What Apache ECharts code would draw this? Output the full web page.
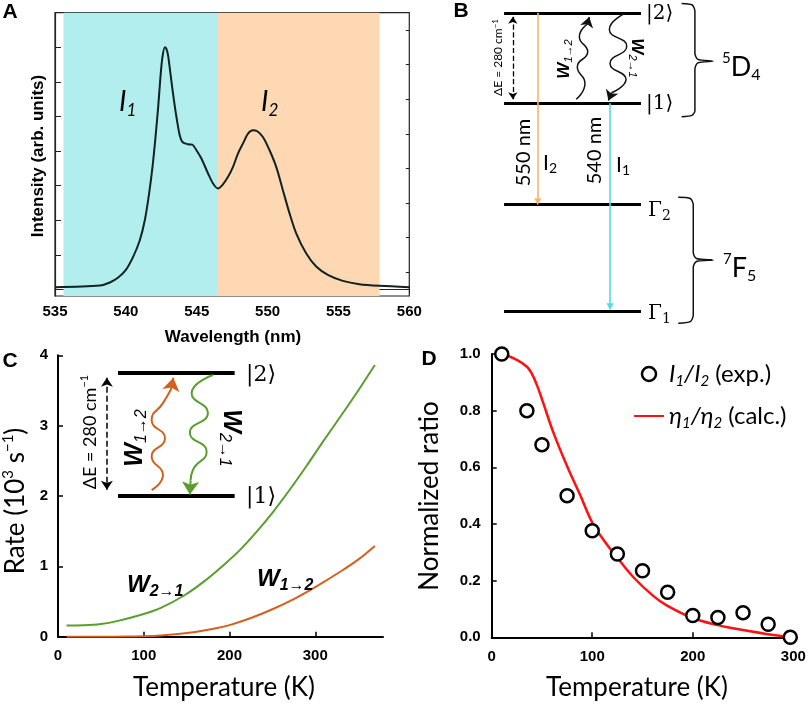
<!DOCTYPE html>
<html><head><meta charset="utf-8">
<script src="https://cdn.jsdelivr.net/npm/echarts@6/dist/echarts.min.js"></script>
<style>html,body{margin:0;padding:0;background:#fff}#c{width:809px;height:704px}</style>
</head><body><div id="c"></div><script>
// ---------- Panel A : emission spectrum ----------
const wavelengthA = [535.0,538.17,538.87,539.46,540.0,540.52,540.99,541.34,541.64,541.88,542.07,542.28,542.44,542.58,542.75,542.86,542.98,543.15,543.33,543.57,543.8,543.99,544.39,544.69,544.98,545.33,545.8,546.15,546.5,546.81,547.21,547.56,547.91,548.26,548.62,548.97,549.25,549.67,550.14,550.61,551.08,551.55,552.02,552.72,553.43,554.25,555.31,556.48,557.89,560.0];
const intensityA = [0.065,0.113,0.20,0.344,0.565,0.949,1.43,2.006,2.774,3.543,4.311,5.272,6.136,6.713,7.0,6.953,6.761,6.233,5.656,4.984,4.455,4.263,4.196,4.186,4.023,3.783,3.351,3.062,2.918,3.014,3.254,3.543,3.927,4.215,4.503,4.599,4.58,4.407,4.023,3.543,2.87,2.198,1.622,1.045,0.661,0.421,0.248,0.152,0.104,0.065];
const bandI1 = [535.6, 546.5];
const bandI2 = [546.5, 557.9];
const ticksAyMajor = [0,1,2,3,4,5,6,7];
const ticksAyMinor = [0.5,1.5,2.5,3.5,4.5,5.5,6.5,7.5];

// ---------- Panel B : energy level scheme (schematic units) ----------
const levelsB = [10.0, 6.97, 3.59, 0.0];          // |2>, |1>, Γ2, Γ1
const arrowI2B = [[0.246,10.0],[0.246,3.66]];
const arrowI1B = [[0.774,6.97],[0.774,0.14]];
const dashB = [[0.064,9.87],[0.064,7.1]];
const waveUpB = [[0.526,7.10],[0.591,7.63],[0.535,8.19],[0.611,8.69],[0.550,9.20],[0.608,9.62]];
const waveUpTipB = [[0.608,9.62],[0.622,9.86]];
const waveDownB = [[0.883,9.98],[0.769,9.44],[0.896,8.88],[0.774,8.30],[0.891,7.77],[0.785,7.32]];
const waveDownTipB = [[0.785,7.32],[0.762,7.06]];
const brace1B = [[1.297,10.315],[1.372,10.27],[1.394,10.06],[1.394,8.64],[1.415,8.44],[1.526,8.381],[1.415,8.32],[1.394,8.12],[1.394,6.71],[1.372,6.56],[1.297,6.514]];
const brace2B = [[1.272,3.812],[1.360,3.77],[1.382,3.56],[1.382,1.95],[1.405,1.76],[1.526,1.71],[1.405,1.66],[1.382,1.47],[1.382,-0.14],[1.360,-0.36],[1.272,-0.412]];

// ---------- Panel C : rates ----------
const tempW21 = [10,30,50,70,96,120,148,170,193,212,231.5,250,270,290,309,330,348,369.5];
const rateW21 = [0.16,0.163,0.18,0.225,0.308,0.41,0.593,0.783,1.017,1.23,1.49,1.761,2.085,2.43,2.772,3.14,3.46,3.862];
const tempW12 = [10,50,80,100,120,140,160,180,200,225,250,275,300,330,350,369.5];
const rateW12 = [0,0,0.002,0.007,0.018,0.038,0.068,0.11,0.165,0.265,0.39,0.535,0.705,0.93,1.095,1.29];
const insetLevelsC = [3.745, 2.0];
const insetSpanC = [70, 206];
const insetDashC = [[57,3.68],[57,2.09]];
const insetWaveUpC = [[109.2,2.085],[122.4,2.30],[109.2,2.56],[124.7,2.82],[109.2,3.08],[122.4,3.32],[132.0,3.52]];
const insetWaveUpTipC = [[132.0,3.52],[134.5,3.68]];
const insetWaveDownC = [[180.7,3.72],[155.8,3.46],[174.8,3.18],[153.8,2.90],[173.3,2.63],[157.3,2.37],[154.6,2.22]];
const insetWaveDownTipC = [[154.6,2.22],[153.8,2.02]];
const ticksCx = [0,100,200,300];

// ---------- Panel D : ratio ----------
const tempExp = [10,35,50,75,100,125,150,175,200,225,250,275,297];
const ratioExp = [1.0,0.80,0.68,0.50,0.376,0.294,0.235,0.159,0.077,0.07,0.087,0.046,0.0];
const tempCalc = [11.6,25,35,40,45,51,61,74.5,88,100,112,124,141,160,174,200,225,240,257,273,298];
const ratioCalc = [1.0,0.979,0.955,0.93,0.89,0.83,0.726,0.608,0.502,0.405,0.34,0.285,0.212,0.148,0.113,0.068,0.043,0.032,0.021,0.012,0.0];

function zip(a,b){return a.map((v,i)=>[v,b[i]]);}

const SANS = 'Liberation Sans';
const CAL = 'Lato';
const SERIF = 'DejaVu Serif';
const tickLabel = {color:'#000', fontFamily:SANS, fontWeight:'bold', fontSize:15};

function T(x,y,text,style,rot){
  return {type:'text', x:x, y:y, z:100, silent:true, rotation:rot||0,
    style:Object.assign({text:text, fill:'#000', align:'center', verticalAlign:'middle'}, style)};
}
const R = {
  sup: (fs)=>({fontFamily:CAL, fontSize:fs, verticalAlign:'top', lineHeight:fs}),
  sub: (fs,fam,it,bold)=>({fontFamily:fam||CAL, fontSize:fs, fontStyle:it?'italic':'normal', fontWeight:bold?'bold':'normal', verticalAlign:'bottom', lineHeight:fs}),
  main: (fs,fam,it,bold)=>({fontFamily:fam||CAL, fontSize:fs, fontStyle:it?'italic':'normal', fontWeight:bold?'bold':'normal', lineHeight:Math.round(fs*1.2)})
};

const graphics = [
  T(10,12,'A',{fontFamily:SANS,fontWeight:'bold',fontSize:21}),
  T(461,11,'B',{fontFamily:SANS,fontWeight:'bold',fontSize:21}),
  T(10,361,'C',{fontFamily:SANS,fontWeight:'bold',fontSize:21}),
  T(429,359,'D',{fontFamily:SANS,fontWeight:'bold',fontSize:21}),
  // A
  T(233,337,'Wavelength (nm)',{fontFamily:SANS,fontWeight:'bold',fontSize:17}),
  T(38,156,'Intensity (arb. units)',{fontFamily:SANS,fontWeight:'bold',fontSize:17},Math.PI/2),
  T(119,102,'{m|I}{s|1}',{align:'left',rich:{m:R.main(28,CAL,true),s:R.sub(17,CAL,true)}}),
  T(261,102,'{m|I}{s|2}',{align:'left',rich:{m:R.main(28,CAL,true),s:R.sub(17,CAL,true)}}),
  // B
  T(646,14,'|2⟩',{align:'left',fontFamily:SERIF,fontSize:20}),
  T(646,104,'|1⟩',{align:'left',fontFamily:SERIF,fontSize:20}),
  T(648,211,'{m|Γ}{s|2}',{align:'left',rich:{m:R.main(20,SERIF),s:R.sub(14,SERIF)}}),
  T(648,314,'{m|Γ}{s|1}',{align:'left',rich:{m:R.main(20,SERIF),s:R.sub(14,SERIF)}}),
  T(722,67,'{p|5}{m|D}{s|4}',{align:'left',rich:{p:R.sup(15),m:R.main(27),s:R.sub(16)}}),
  T(723,268,'{p|7}{m|F}{s|5}',{align:'left',rich:{p:R.sup(15),m:R.main(27),s:R.sub(16)}}),
  T(523.5,152.5,'550 nm',{fontFamily:CAL,fontSize:20},Math.PI/2),
  T(595,150.5,'540 nm',{fontFamily:CAL,fontSize:20},Math.PI/2),
  T(543,163,'{m|I}{s|2}',{align:'left',rich:{m:R.main(21),s:R.sub(14)}}),
  T(616,165,'{m|I}{s|1}',{align:'left',rich:{m:R.main(21),s:R.sub(14)}}),
  T(498,57.5,'{m|ΔE = 280 cm}{p|−1}',{rich:{m:R.main(12),p:R.sup(8)}},Math.PI/2),
  T(564,59,'{m|W}{s|1→2}',{rich:{m:R.main(17,SANS,true,true),s:R.sub(11,SANS,true)}},Math.PI/2),
  T(637,58,'{m|W}{s|2→1}',{rich:{m:R.main(17,SANS,true,true),s:R.sub(11,SANS,true)}},-Math.PI/2),
  // C
  T(16,501,'{m|Rate (10}{p|3}{m| s}{p|−1}{m|)}',{rich:{m:R.main(26),p:R.sup(15)}},Math.PI/2),
  T(224,688,'Temperature (K)',{fontFamily:CAL,fontSize:26}),
  T(90,432,'{m|ΔE = 280 cm}{p|−1}',{rich:{m:R.main(18),p:R.sup(11)}},Math.PI/2),
  T(246,375,'|2⟩',{align:'left',fontFamily:SERIF,fontSize:22}),
  T(246,497,'|1⟩',{align:'left',fontFamily:SERIF,fontSize:22}),
  T(135,438,'{m|W}{s|1→2}',{rich:{m:R.main(25,SANS,true,true),s:R.sub(16,SANS,true)}},Math.PI/2),
  T(231,438,'{m|W}{s|2→1}',{rich:{m:R.main(25,SANS,true,true),s:R.sub(16,SANS,true)}},-Math.PI/2),
  T(127,585,'{m|W}{s|2→1}',{align:'left',rich:{m:R.main(24,SANS,true,true),s:R.sub(16,SANS,true,true)}}),
  T(257,579,'{m|W}{s|1→2}',{align:'left',rich:{m:R.main(24,SANS,true,true),s:R.sub(16,SANS,true,true)}}),
  // D
  T(430,496,'Normalized ratio',{fontFamily:CAL,fontSize:26},Math.PI/2),
  T(637,688,'Temperature (K)',{fontFamily:CAL,fontSize:26})
];

const blackLine = {show:true, lineStyle:{color:'#000', width:2}};

function linesSeries(gi, data, style, symbol, symbolSize){
  return {type:'lines', coordinateSystem:'cartesian2d', xAxisIndex:gi, yAxisIndex:gi, silent:true, z:5,
    polyline:false, symbol:symbol||['none','none'], symbolSize:symbolSize||8,
    lineStyle:Object.assign({opacity:1, curveness:0}, style),
    data:data.map(c=>({coords:c}))};
}
function waveSeries(gi, data, color, width, smooth){
  return {type:'line', xAxisIndex:gi, yAxisIndex:gi, data:data, smooth:smooth===undefined?0.55:smooth, showSymbol:false, silent:true, z:5,
    lineStyle:{color:color, width:width}, animation:false};
}

const option = {
  animation:false,
  backgroundColor:'#fff',
  graphic:graphics,
  grid:[
    {left:55, top:12.7, width:354.3, height:283.3, show:true, borderColor:'#222', borderWidth:1.2, outerBoundsMode:'none'},
    {left:463, top:0, width:345, height:330, outerBoundsMode:'none'},
    {left:58, top:355.3, width:325, height:281.4, outerBoundsMode:'none'},
    {left:491.7, top:354, width:301.6, height:283.3, outerBoundsMode:'none'}
  ],
  xAxis:[
    {gridIndex:0, type:'value', min:535, max:560, interval:2.5, position:'bottom',
      axisLine:{show:true, lineStyle:{color:'#222', width:1.2}}, axisTick:{inside:true, length:4, lineStyle:{color:'#222'}},
      axisLabel:Object.assign({margin:8, formatter:v=>(v%5===0?String(v):'')}, tickLabel), splitLine:{show:false}},
    {gridIndex:1, type:'value', min:-0.3, max:2.22, show:false},
    {gridIndex:2, type:'value', min:0, max:379, axisLine:blackLine,
      axisTick:{inside:true, length:5, lineStyle:{color:'#000', width:1.5}, customValues:ticksCx},
      axisLabel:Object.assign({margin:12, customValues:ticksCx}, tickLabel), splitLine:{show:false}},
    {gridIndex:3, type:'value', min:0, max:300, interval:100, axisLine:blackLine,
      axisTick:{inside:true, length:5, lineStyle:{color:'#000', width:1.5}},
      axisLabel:Object.assign({margin:12}, tickLabel), splitLine:{show:false}},
    {gridIndex:0, type:'value', min:535, max:560, interval:2.5, position:'top',
      axisLine:{show:false}, axisTick:{inside:true, length:4, lineStyle:{color:'#222'}},
      axisLabel:{show:false}, splitLine:{show:false}}
  ],
  yAxis:[
    {gridIndex:0, type:'value', min:-0.19, max:8, axisLine:{show:true, lineStyle:{color:'#222', width:1.2}},
      axisTick:{inside:true, length:6, lineStyle:{color:'#222'}, customValues:ticksAyMajor},
      axisLabel:{show:false}, splitLine:{show:false}},
    {gridIndex:1, type:'value', min:-0.64, max:10.43, show:false},
    {gridIndex:2, type:'value', min:0, max:4, interval:1, axisLine:blackLine,
      axisTick:{show:true, inside:true, length:5, lineStyle:{color:'#000', width:1.5}},
      axisLabel:Object.assign({margin:10}, tickLabel), splitLine:{show:false}},
    {gridIndex:3, type:'value', min:0, max:1, interval:0.2, axisLine:blackLine,
      axisTick:{show:true, inside:true, length:5, lineStyle:{color:'#000', width:1.5}},
      axisLabel:Object.assign({margin:11, formatter:v=>v.toFixed(1)}, tickLabel), splitLine:{show:false}},
    {gridIndex:0, type:'value', min:-0.19, max:8, axisLine:{show:false},
      axisTick:{inside:true, length:3.5, lineStyle:{color:'#222'}, customValues:ticksAyMinor},
      axisLabel:{show:false}, splitLine:{show:false}}
  ],
  legend:{
    orient:'vertical', left:628, top:357, itemWidth:30, itemHeight:14, itemGap:15,
    data:[
      {name:'I1/I2 (exp.)', icon:'circle', itemStyle:{color:'#fff', borderColor:'#000', borderWidth:2.5}},
      {name:'η1/η2 (calc.)', itemStyle:{opacity:0}}
    ],
    formatter:function(n){
      return n.indexOf('exp')>=0 ? '{i|I}{s|1}{i|/I}{s|2}{n| (exp.)}' : '{i|η}{s|1}{i|/η}{s|2}{n| (calc.)}';
    },
    textStyle:{fontFamily:CAL, fontSize:24, color:'#000', rich:{
      i:{fontFamily:CAL, fontSize:24, fontStyle:'italic', lineHeight:30},
      s:{fontFamily:CAL, fontSize:15, fontStyle:'italic', verticalAlign:'bottom', lineHeight:15},
      n:{fontFamily:CAL, fontSize:24, lineHeight:30}
    }}
  },
  series:[
    // A
    {type:'line', name:'spectrum', xAxisIndex:0, yAxisIndex:0, data:zip(wavelengthA,intensityA), smooth:0.3,
      showSymbol:false, lineStyle:{color:'#102222', width:2}, z:3,
      markArea:{silent:true, label:{show:false}, data:[
        [{xAxis:bandI1[0], itemStyle:{color:'#b2eeee', opacity:1}},{xAxis:bandI1[1]}],
        [{xAxis:bandI2[0], itemStyle:{color:'#fdd8b3', opacity:1}},{xAxis:bandI2[1]}]
      ]}},
    // B
    linesSeries(1, levelsB.map(e=>[[0,e],[1,e]]), {color:'#000', width:3}),
    linesSeries(1, [arrowI2B], {color:'#f7b566', width:1.6}, ['none','triangle'], 7),
    linesSeries(1, [arrowI1B], {color:'#55dde3', width:1.6}, ['none','triangle'], 7),
    linesSeries(1, [dashB], {color:'#000', width:1.3, type:'dashed'}, ['arrow','arrow'], 7),
    waveSeries(1, waveUpB, '#111', 1.5),
    linesSeries(1, [waveUpTipB], {color:'#111', width:1.5}, ['none','arrow'], 10),
    waveSeries(1, waveDownB, '#111', 1.5),
    linesSeries(1, [waveDownTipB], {color:'#111', width:1.5}, ['none','arrow'], 10),
    waveSeries(1, brace1B, '#111', 1.5, 0.25),
    waveSeries(1, brace2B, '#111', 1.5, 0.25),
    // C
    {type:'line', name:'W21', xAxisIndex:2, yAxisIndex:2, data:zip(tempW21,rateW21), smooth:0.35, showSymbol:false,
      lineStyle:{color:'#5a9e2f', width:2}, z:3},
    {type:'line', name:'W12', xAxisIndex:2, yAxisIndex:2, data:zip(tempW12,rateW12), smooth:0.35, showSymbol:false,
      lineStyle:{color:'#d4601f', width:2}, z:3},
    linesSeries(2, insetLevelsC.map(r=>[[insetSpanC[0],r],[insetSpanC[1],r]]), {color:'#000', width:4}),
    linesSeries(2, [insetDashC], {color:'#000', width:1.5, type:'dashed'}, ['arrow','arrow'], 9),
    waveSeries(2, insetWaveUpC, '#d4601f', 2),
    linesSeries(2, [insetWaveUpTipC], {color:'#d4601f', width:2}, ['none','arrow'], 13),
    waveSeries(2, insetWaveDownC, '#5a9e2f', 2),
    linesSeries(2, [insetWaveDownTipC], {color:'#5a9e2f', width:2}, ['none','arrow'], 13),
    // D
    {type:'line', name:'η1/η2 (calc.)', xAxisIndex:3, yAxisIndex:3, data:zip(tempCalc,ratioCalc), smooth:0.4, showSymbol:false, symbol:'none',
      lineStyle:{color:'#ff1111', width:2.5}, itemStyle:{color:'#ff1111'}, z:3},
    {type:'scatter', name:'I1/I2 (exp.)', xAxisIndex:3, yAxisIndex:3, data:zip(tempExp,ratioExp), symbol:'circle', symbolSize:13,
      itemStyle:{color:'#fff', borderColor:'#000', borderWidth:2.5, opacity:1}, z:4}
  ]
};
const chart = echarts.init(document.getElementById('c'));
chart.setOption(option);
</script></body></html>
